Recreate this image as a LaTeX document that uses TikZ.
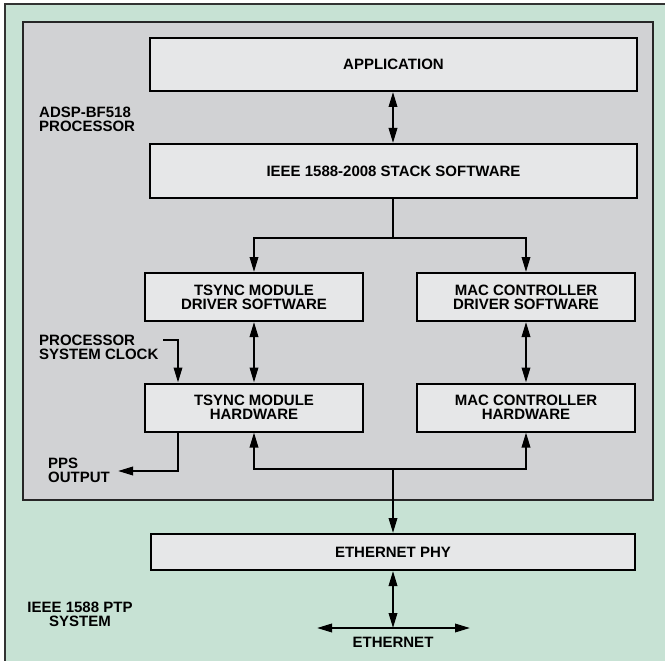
\documentclass[tikz,border=0pt]{standalone}
\usepackage{fontspec}
\setmainfont{Liberation Sans}
\usetikzlibrary{arrows.meta}
\definecolor{sysgreen}{HTML}{C7E2D4}
\definecolor{cpugray}{HTML}{D1D2D4}
\definecolor{blockfill}{HTML}{E6E7E8}
\begin{document}
\begin{tikzpicture}[x=1pt,y=-1pt,
  lbl/.style={font=\fontsize{15}{14.3}\selectfont\bfseries, inner sep=0pt},
  block/.style={lbl, draw=black, line width=2pt, fill=blockfill, align=center},
  wide/.style={block, minimum width=487pt},
  half/.style={block, minimum width=218pt, minimum height=48pt},
  link/.style={line width=1.9pt, >={Triangle[length=15pt,width=8.5pt]}}]
% page and frames
\useasboundingbox (0,0) rectangle (665,661);
\clip (0,0) rectangle (665,661);
\fill[white] (0,0) rectangle (665,661);
\draw[fill=sysgreen, draw=black!80, line width=1.5pt] (5,4) rectangle (680,680);
\draw[fill=cpugray, draw=black!85, line width=2pt] (23,22) rectangle (653,500);

% blocks
\node[wide, minimum height=53pt] (app)   at (393.5,64.5) {APPLICATION};
\node[wide, minimum height=54pt] (stack) at (393.5,171)  {IEEE 1588-2008 STACK SOFTWARE};
\node[half] (tdrv) at (254,297)   {TSYNC MODULE\\DRIVER SOFTWARE};
\node[half] (mdrv) at (526,297)   {MAC CONTROLLER\\DRIVER SOFTWARE};
\node[half] (thw)  at (254,407.5) {TSYNC MODULE\\HARDWARE};
\node[half] (mhw)  at (526,407.5) {MAC CONTROLLER\\HARDWARE};
\node[block, minimum width=484pt, minimum height=36pt] (phy) at (393,552) {ETHERNET PHY};

% free labels
\node[lbl, anchor=west, align=left]  (cpulabel) at (39,119.5) {ADSP-BF518\\PROCESSOR};
\node[lbl, anchor=west, align=left]  (clklabel) at (39,347)   {PROCESSOR\\SYSTEM CLOCK};
\node[lbl, anchor=west, align=left]  (ppslabel) at (48,470.5) {PPS\\OUTPUT};
\node[lbl, align=center]             (syslabel) at (80,614.5) {IEEE 1588 PTP\\SYSTEM};
\node[lbl]                           (ethlabel) at (393,642.5) {ETHERNET};

% junction points
\coordinate (split)  at (393,238);
\coordinate (bus)    at (393,469);
\coordinate (clk)    at (163,340);
\coordinate (ppsend) at (118,471);
\coordinate (eth)    at (393,628);
\coordinate (ethL)   at (317,628);
\coordinate (ethR)   at (470,628);

% connectors
\draw[link, <->] (split |- app.south) -- (split |- stack.north);
\draw[link] (split |- stack.south) -- (split);
\draw[link, <->] (tdrv.north) |- (split) -| (mdrv.north);
\draw[link, <->] (tdrv.south) -- (thw.north);
\draw[link, <->] (mdrv.south) -- (mhw.north);
\draw[link, ->] (clk) -| ([xshift=34pt]thw.north west);
\draw[link, ->] ([xshift=34pt]thw.south west) |- (ppsend);
\draw[link, <->] (thw.south) |- (bus) -| (mhw.south);
\draw[link, ->] (bus) -- (phy.north);
\draw[link, <->] (phy.south) -- (eth);
\draw[link, <->] (ethL) -- (ethR);
\end{tikzpicture}
\end{document}
